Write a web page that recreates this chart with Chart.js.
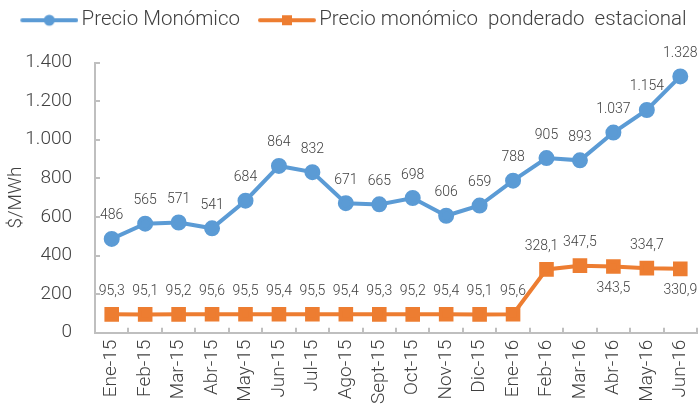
<!DOCTYPE html>
<html>
<head>
<meta charset="utf-8">
<script src="https://cdn.jsdelivr.net/npm/chart.js@4.4.1/dist/chart.umd.min.js"></script>
<style>
  html, body { margin: 0; background: #fff; overflow: hidden; }
  #wrap { width: 699px; height: 416px; }
</style>
</head>
<body>
<div id="wrap"><canvas id="chart"></canvas></div>
<script>
const meses = ["Ene-15", "Feb-15", "Mar-15", "Abr-15", "May-15", "Jun-15", "Jul-15", "Ago-15", "Sept-15",
  "Oct-15", "Nov-15", "Dic-15", "Ene-16", "Feb-16", "Mar-16", "Abr-16", "May-16", "Jun-16"];
const precioMonomico = [486, 565, 571, 541, 684, 864, 832, 671, 665, 698, 606, 659, 788, 905, 893, 1037, 1154, 1328];
const precioPonderado = [95.3, 95.1, 95.2, 95.6, 95.5, 95.4, 95.5, 95.4, 95.3, 95.2, 95.4, 95.1, 95.6,
  328.1, 347.5, 343.5, 334.7, 330.9];
const yTicks = [0, 200, 400, 600, 800, 1000, 1200, 1400];

const FONT = "Roboto, 'Noto Sans', sans-serif";
const TEXT = "#404040";
const AZUL = "#5b9bd5";
const NARANJA = "#ed7d31";

// etiquetas del naranja que van debajo del punto, y las que se corren a la izquierda
const debajo = [15, 17];
const aLaIzquierda = [13];

function miles(v) {
  return String(Math.round(v)).replace(/\B(?=(\d{3})+(?!\d))/g, ".");
}
function decimal(v) {
  return v.toFixed(1).replace(".", ",");
}

// muestra de leyenda: linea con marcador
function marca(color, cuadrado) {
  const c = document.createElement("canvas");
  c.width = 73; c.height = 14;
  const g = c.getContext("2d");
  g.strokeStyle = color; g.lineWidth = 4; g.lineCap = "round";
  g.beginPath(); g.moveTo(17, 7); g.lineTo(71, 7); g.stroke();
  g.fillStyle = color;
  if (cuadrado) {
    g.fillRect(39, 2, 10, 10);
  } else {
    g.beginPath(); g.arc(44, 7, 5.5, 0, Math.PI * 2); g.fill();
  }
  return c;
}
const marcas = [marca(AZUL, false), marca(NARANJA, true)];

const etiquetas = {
  id: "etiquetas",
  afterDatasetsDraw(chart) {
    const ctx = chart.ctx;
    ctx.save();
    ctx.font = "300 14px " + FONT;
    ctx.fillStyle = TEXT;
    ctx.textAlign = "center";
    ctx.textBaseline = "middle";
    chart.data.datasets.forEach((ds, di) => {
      chart.getDatasetMeta(di).data.forEach((pt, i) => {
        const abajo = di === 1 && debajo.includes(i);
        const dx = di === 1 && aLaIzquierda.includes(i) ? -5 : 0;
        const txt = di === 0 ? miles(ds.data[i]) : decimal(ds.data[i]);
        ctx.fillText(txt, pt.x + dx, pt.y + (abajo ? 22 : -23));
      });
    });
    ctx.restore();
  }
};

// deja algo mas de aire bajo la leyenda
const aireLeyenda = {
  id: "aireLeyenda",
  beforeInit(chart) {
    const fit = chart.legend.fit;
    chart.legend.fit = function () {
      fit.call(this);
      this.height += 22;
    };
  }
};

new Chart(document.getElementById("chart"), {
  type: "line",
  data: {
    labels: meses,
    datasets: [
      {
        label: "Precio Monómico",
        data: precioMonomico,
        borderColor: AZUL,
        backgroundColor: AZUL,
        borderWidth: 4,
        pointStyle: "circle",
        pointRadius: 6,
        pointHoverRadius: 6,
        tension: 0
      },
      {
        label: "Precio monómico  ponderado  estacional",
        data: precioPonderado,
        borderColor: NARANJA,
        backgroundColor: NARANJA,
        borderWidth: 4,
        pointStyle: "rect",
        pointRadius: 7.5,
        pointHoverRadius: 7.5,
        tension: 0
      }
    ]
  },
  options: {
    responsive: true,
    maintainAspectRatio: false,
    animation: false,
    layout: { autoPadding: false, padding: { left: 2, right: 2, top: 0, bottom: 0 } },
    plugins: {
      tooltip: { enabled: false },
      legend: {
        position: "top",
        labels: {
          usePointStyle: true,
          pointStyleWidth: 59,
          padding: 10,
          color: TEXT,
          font: { size: 20.5, family: FONT, weight: 300 },
          generateLabels(chart) {
            const items = Chart.defaults.plugins.legend.labels.generateLabels(chart);
            items.forEach((it, i) => { it.pointStyle = marcas[i]; });
            return items;
          }
        }
      }
    },
    scales: {
      x: {
        offset: true,
        afterFit(scale) {
          scale.paddingLeft = 0;
          scale.paddingRight = 0;
        },
        grid: { drawOnChartArea: false, offset: true, color: "#bfbfbf", lineWidth: 2, tickLength: -5 },
        border: { color: "#bfbfbf", width: 2 },
        ticks: {
          maxRotation: 90,
          minRotation: 90,
          autoSkip: false,
          padding: 12,
          color: TEXT,
          font: { size: 19, family: FONT, weight: 300 }
        }
      },
      y: {
        min: 0,
        max: 1400,
        afterBuildTicks(scale) {
          scale.ticks = yTicks.map(v => ({ value: v }));
        },
        afterFit(scale) {
          scale.width = 93;
        },
        grid: { drawOnChartArea: false, color: "#bfbfbf", lineWidth: 2, tickLength: -5 },
        border: { color: "#bfbfbf", width: 2 },
        ticks: {
          padding: 28,
          color: TEXT,
          font: { size: 19, family: FONT, weight: 300 },
          callback: v => miles(v)
        },
        title: {
          display: true,
          text: "$/MWh",
          color: TEXT,
          padding: { top: 3, bottom: 0 },
          font: { size: 19, family: FONT, weight: 300 }
        }
      }
    }
  },
  plugins: [etiquetas, aireLeyenda]
});
</script>
</body>
</html>
